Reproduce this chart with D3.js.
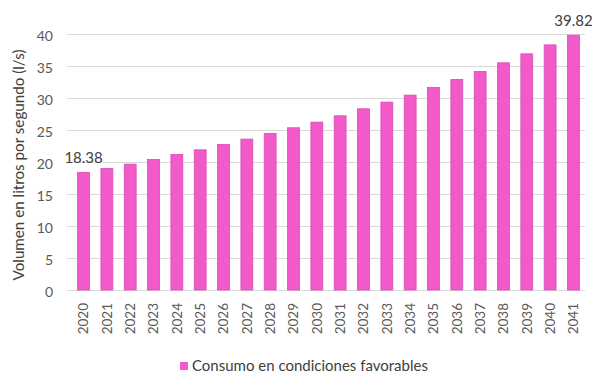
<!DOCTYPE html>
<html>
<head>
  <meta charset="utf-8">
  <script src="https://cdnjs.cloudflare.com/ajax/libs/d3/7.8.5/d3.min.js"></script>
  <title>Consumo</title>
  <style>
    body { margin: 0; background: #fff; font-family: Lato, "Open Sans", sans-serif; }
    .grid line { stroke: #d9d9d9; }
    .grid path { display: none; }
    .tick text { fill: #595959; }
  </style>
</head>
<body>
<script>
// years on the x axis
var years = ["2020","2021","2022","2023","2024","2025","2026","2027","2028","2029","2030",
             "2031","2032","2033","2034","2035","2036","2037","2038","2039","2040","2041"];
// consumo en condiciones favorables (l/s)
var consumo = [18.38, 19.0, 19.67, 20.4, 21.19, 21.9, 22.75, 23.58, 24.47, 25.35, 26.23,
               27.22, 28.31, 29.36, 30.45, 31.65, 32.9, 34.15, 35.5, 36.9, 38.3, 39.82];
var yTicks = [0, 5, 10, 15, 20, 25, 30, 35, 40];
var seriesName = "Consumo en condiciones favorables";
var yTitle = "Volumen en litros por segundo (l/s)";
var labelled = ["2020", "2041"];

var W = 592, H = 373;
var margin = {top: 34, right: 7, bottom: 83, left: 72};
var width = W - margin.left - margin.right,
    height = H - margin.top - margin.bottom;

var svg = d3.select("body").append("svg")
    .attr("width", W)
    .attr("height", H);

var x = d3.scaleBand()
    .domain(years)
    .range([0, width])
    .paddingInner(0.49)
    .paddingOuter(0.24);

var y = d3.scaleLinear()
    .domain([0, 40])
    .range([height, 0]);

var g = svg.append("g")
    .attr("transform", "translate(" + margin.left + "," + margin.top + ")");

// gridlines
g.append("g")
    .attr("class", "grid")
    .attr("transform", "translate(-5,0)")
    .call(d3.axisLeft(y).tickValues(yTicks).tickSize(-(width + 5)).tickFormat(""));

// y axis labels
var yAxis = g.append("g")
    .attr("transform", "translate(-19,0)")
    .call(d3.axisLeft(y).tickValues(yTicks).tickSize(0).tickPadding(0));
yAxis.select(".domain").remove();
yAxis.selectAll("text")
    .attr("dy", "0.45em")
    .style("font-size", "14px")
    .style("font-family", "Lato, sans-serif");

// x axis labels (rotated)
var xAxis = g.append("g")
    .attr("transform", "translate(0," + height + ")")
    .call(d3.axisBottom(x).tickSize(0));
xAxis.select(".domain").remove();
xAxis.selectAll("text")
    .attr("transform", "rotate(-90)")
    .attr("x", -13)
    .attr("y", 0)
    .attr("dy", "0.35em")
    .style("text-anchor", "end")
    .style("font-size", "13.5px")
    .style("font-family", "Lato, sans-serif");

// bars
g.selectAll("rect.bar")
    .data(consumo)
  .enter().append("rect")
    .attr("class", "bar")
    .attr("x", function(d, i) { return x(years[i]); })
    .attr("width", x.bandwidth())
    .attr("y", function(d) { return y(d); })
    .attr("height", function(d) { return height - y(d); })
    .style("fill", "#f25ac9")
    .style("stroke", "#d84db3")
    .style("stroke-width", 0.8);

// data labels on first and last bar
g.selectAll("text.val")
    .data(consumo.filter(function(d, i) { return labelled.indexOf(years[i]) >= 0; }))
  .enter().append("text")
    .attr("class", "val")
    .attr("x", function(d) { return x(years[consumo.indexOf(d)]) + x.bandwidth() / 2; })
    .attr("y", function(d) { return y(d) - 9; })
    .attr("text-anchor", "middle")
    .style("font-size", "15px")
    .style("fill", "#404040")
    .text(function(d) { return d.toFixed(2); });

// y axis title
svg.append("text")
    .attr("transform", "translate(24,165) rotate(-90)")
    .attr("text-anchor", "middle")
    .style("font-size", "15.2px")
    .style("fill", "#404040")
    .text(yTitle);

// legend
var leg = svg.append("g").attr("transform", "translate(180,366)");
leg.append("rect")
    .attr("x", 0).attr("y", -4)
    .attr("width", 8).attr("height", 8)
    .style("fill", "#f25ac9");
leg.append("text")
    .attr("x", 12).attr("y", 0)
    .attr("dy", "0.35em")
    .style("font-size", "15px")
    .style("fill", "#404040")
    .text(seriesName);
</script>
</body>
</html>
